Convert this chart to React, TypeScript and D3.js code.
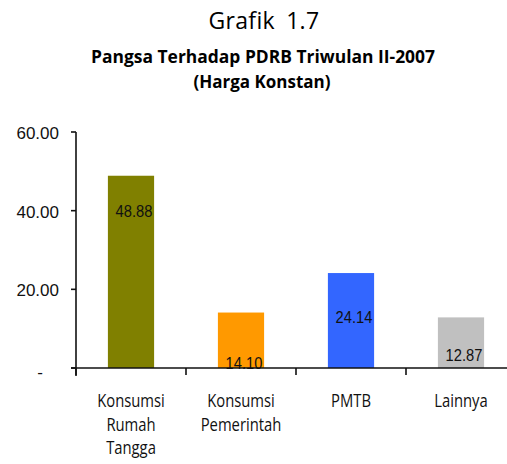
import React, { useRef, useEffect } from 'react';
import * as d3 from 'd3';

// data
const categories = ['Konsumsi Rumah Tangga', 'Konsumsi Pemerintah', 'PMTB', 'Lainnya'];
const categoryLines = [['Konsumsi', 'Rumah', 'Tangga'], ['Konsumsi', 'Pemerintah'], ['PMTB'], ['Lainnya']];
const values = [48.88, 14.1, 24.14, 12.87];
const colors = ['#808000', '#FF9900', '#3366FF', '#C0C0C0'];
const yTicks = [0, 20, 40, 60];
// where the value label sits on each bar, in axis units (Excel placed them oddly)
const labelAt = [40, 1.3, 13, 3.3];

const W = 507;
const H = 464;
const humanist = '"Open Sans", sans-serif';
const condense = 0.78; // the original uses a condensed face

const App = () => {
  const svgRef = useRef<SVGSVGElement>(null);

  useEffect(() => {
    const svg = d3.select(svgRef.current);
    svg.selectAll('*').remove();

    const x = d3.scaleBand<string>()
      .domain(categories)
      .range([76, 516])
      .paddingInner(0.58)
      .paddingOuter(0.29);

    const y = d3.scaleLinear().domain([0, 60]).range([368, 132]);

    // titles
    svg.append('text')
      .attr('x', 264).attr('y', 29)
      .attr('text-anchor', 'middle')
      .style('font-family', humanist)
      .style('font-size', '23px')
      .style('word-spacing', '5px')
      .style('letter-spacing', '0.3px')
      .text('Grafik 1.7');
    svg.append('text')
      .attr('x', 263).attr('y', 62.5)
      .attr('text-anchor', 'middle')
      .style('font-family', humanist)
      .style('font-weight', 'bold')
      .style('font-size', '17.5px')
      .attr('textLength', 344)
      .attr('lengthAdjust', 'spacingAndGlyphs')
      .text('Pangsa Terhadap PDRB Triwulan II-2007');
    svg.append('text')
      .attr('x', 262).attr('y', 87.5)
      .attr('text-anchor', 'middle')
      .style('font-family', humanist)
      .style('font-weight', 'bold')
      .style('font-size', '17.5px')
      .attr('textLength', 137)
      .attr('lengthAdjust', 'spacingAndGlyphs')
      .text('(Harga Konstan)');

    // bars
    svg.selectAll('.bar')
      .data(values)
      .join('rect')
      .attr('class', 'bar')
      .attr('x', (d, i) => x(categories[i])!)
      .attr('y', d => y(d))
      .attr('width', x.bandwidth())
      .attr('height', d => y(0) - y(d))
      .attr('fill', (d, i) => colors[i]);

    // value labels
    svg.selectAll('.val')
      .data(values)
      .join('text')
      .attr('class', 'val')
      .attr('transform', (d, i) =>
        `translate(${x(categories[i])! + x.bandwidth() / 2 + 3},${y(labelAt[i])}) scale(0.92,1.08)`)
      .attr('dy', '0.35em')
      .attr('text-anchor', 'middle')
      .style('font-family', '"Liberation Sans", Arial, sans-serif')
      .style('font-size', '16px')
      .style('fill', '#111')
      .text(d => d.toFixed(2));

    // y axis
    const axisColor = '#111';
    svg.append('line')
      .attr('x1', 76).attr('x2', 76)
      .attr('y1', y(60)).attr('y2', y(0) + 8)
      .attr('stroke', axisColor).attr('stroke-width', 1.6);
    const yt = svg.selectAll('.ytick').data(yTicks).join('g').attr('class', 'ytick');
    yt.append('line')
      .attr('x1', 71).attr('x2', 76)
      .attr('y1', d => y(d)).attr('y2', d => y(d))
      .attr('stroke', axisColor).attr('stroke-width', 1.6);
    yt.append('text')
      .attr('x', d => (d === 0 ? 40 : 59))
      .attr('y', d => y(d) + (d === 0 ? 4 : 1))
      .attr('dy', '0.35em')
      .attr('text-anchor', d => (d === 0 ? 'middle' : 'end'))
      .style('font-family', '"Liberation Sans", Arial, sans-serif')
      .style('font-size', '17px')
      .style('fill', '#111')
      .text(d => (d === 0 ? '-' : d3.format('.2f')(d)));

    // x axis
    svg.append('line')
      .attr('x1', 71).attr('x2', W)
      .attr('y1', y(0)).attr('y2', y(0))
      .attr('stroke', axisColor).attr('stroke-width', 1.6);
    const bounds = categories.map(c => x(c)! - (x.step() - x.bandwidth()) / 2);
    svg.selectAll('.xtick')
      .data(bounds)
      .join('line')
      .attr('class', 'xtick')
      .attr('x1', d => d).attr('x2', d => d)
      .attr('y1', y(0)).attr('y2', y(0) + 7)
      .attr('stroke', axisColor).attr('stroke-width', 1.6);

    // category labels, one text per line so each can be condensed
    categories.forEach((c, i) => {
      svg.selectAll(`.cat${i}`)
        .data(categoryLines[i])
        .join('text')
        .attr('class', `cat${i}`)
        .attr('transform', (d, j) =>
          `translate(${x(c)! + x.bandwidth() / 2},${407 + j * 23.5}) scale(${condense},1)`)
        .attr('text-anchor', 'middle')
        .style('font-family', humanist)
        .style('font-size', '19px')
        .style('fill', '#111')
        .text(d => d);
    });
  }, []);

  return (
    <svg ref={svgRef} width={W} height={H}
      style={{ position: 'absolute', left: 0, top: 0, background: '#fff' }} />
  );
};

export default App;
